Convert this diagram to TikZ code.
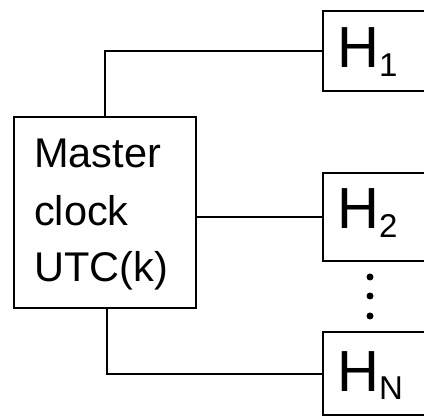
\documentclass[tikz,border=0pt]{standalone}
\usepackage{fontspec}
\setmainfont{Liberation Sans}
\begin{document}
\begin{tikzpicture}[x=1pt,y=-1pt,
  boxline/.style={draw=black,line width=2.2pt},
  hbox/.style={boxline,rectangle,minimum width=110pt,inner sep=0pt,anchor=north west},
  wire/.style={draw=black,line width=2pt},
  mtext/.style={anchor=base west,inner sep=0pt,font=\fontsize{41.5}{41.5}\selectfont},
  htext/.style={anchor=base west,inner sep=0pt,font=\fontsize{58}{58}\selectfont},
  dotmark/.style={circle,fill=black,inner sep=0pt,minimum size=7pt}]
\useasboundingbox (0,0) rectangle (424,419);
\clip (0,0) rectangle (424,419);
\fill[white] (0,0) rectangle (424,419);
% master clock box
\node[boxline,rectangle,minimum width=182pt,minimum height=191pt,inner sep=0pt,anchor=north west] (m) at (13,116) {};
\node[mtext] (t1) at (34,168) {Master};
\node[mtext] (t2) at (34,226) {clock};
\node[mtext] (t3) at (34,282) {UTC(k)};
% receiver boxes
\node[hbox,minimum height=80pt] (h1) at (322,10) {};
\node[hbox,minimum height=88pt] (h2) at (322,172) {};
\node[hbox,minimum height=83pt] (hn) at (322,331) {};
\node[htext] (l1) at (337,68) {H\raisebox{-9pt}{\fontsize{33}{33}\selectfont 1}};
\node[htext] (l2) at (337,229) {H\raisebox{-9pt}{\fontsize{33}{33}\selectfont 2}};
\node[htext] (ln) at (337,392) {H\raisebox{-8pt}{\fontsize{33}{33}\selectfont N}};
% dots
\node[dotmark] (d1) at (370,277) {};
\node[dotmark] (d2) at (370,296) {};
\node[dotmark] (d3) at (370,316) {};
% connectors
\coordinate (mt) at (105,116);
\coordinate (mb) at (107,307);
\draw[wire] (mt) |- (h1.west);
\draw[wire] (m.east |- h2.west) -- (h2.west);
\draw[wire] (mb) |- (hn.west);
\end{tikzpicture}
\end{document}
